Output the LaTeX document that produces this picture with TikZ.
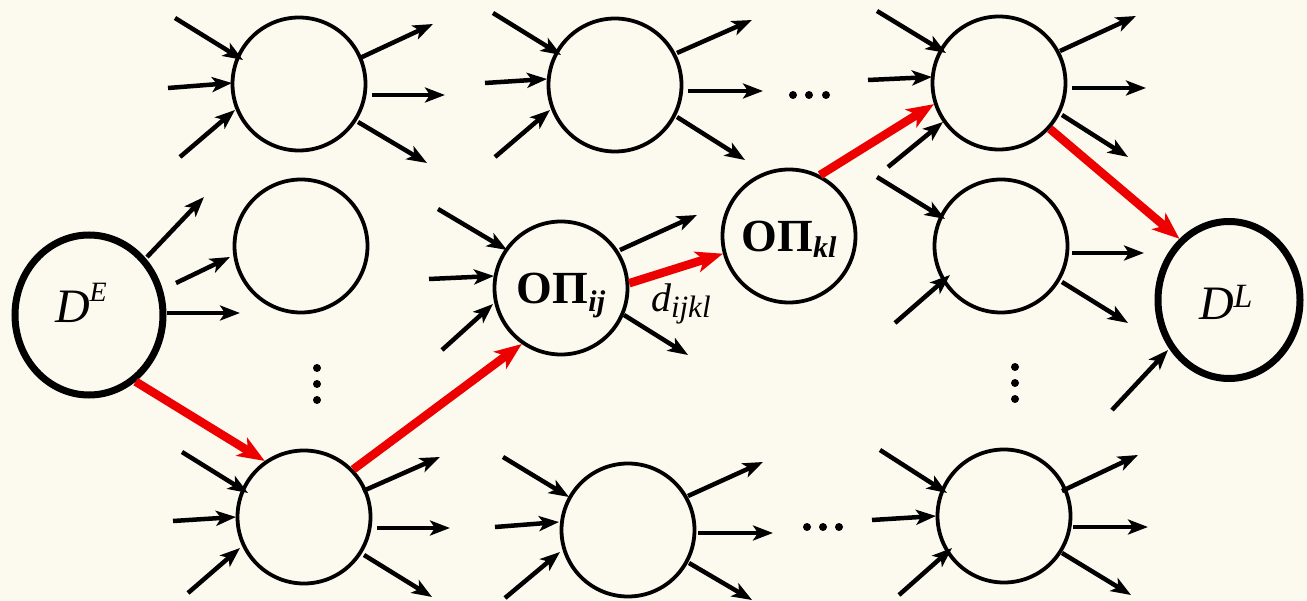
\documentclass[tikz,border=0pt]{standalone}
\usepackage{fontspec}
\setmainfont{Liberation Serif}
\usetikzlibrary{arrows.meta,calc,shapes.geometric}
\definecolor{bgc}{RGB}{252,249,238}
\definecolor{rd}{RGB}{236,0,0}
\newcommand\mystub[5]{\draw[stub] ($(#1)+(#2,#3)$) -- ($(#1)+(#4,#5)$);}
\tikzset{
  stub/.style={line width=4.5pt,-{Stealth[length=20pt,width=15pt,inset=5pt]}},
  redpath/.style={draw=rd,line width=8.5pt,-{Stealth[length=27pt,width=21pt,inset=7pt]}},
  op/.style={circle,draw,line width=3.8pt,minimum size=133pt,inner sep=0pt},
  term/.style={ellipse,draw,line width=7pt,inner sep=0pt},
  lbl/.style={inner sep=0pt,outer sep=0pt},
  dotc/.style={fill=black}
}
\begin{document}
\begin{tikzpicture}[x=1pt,y=-1pt]
\fill[bgc] (0,0) rectangle (1307,601);
\useasboundingbox (0,0) rectangle (1307,601);
% nodes
\node[term,minimum width=148pt,minimum height=160pt] (DE) at (89,315) {};
\node[term,minimum width=142pt,minimum height=157pt] (DL) at (1229,300) {};
\node[op] (A1) at (299,84) {};
\node[op] (A2) at (301,246) {};
\node[op] (A3) at (304,517) {};
\node[op] (Pij) at (561,288) {\fontsize{46pt}{46pt}\selectfont\bfseries ОП\smash{\raisebox{-8pt}{\fontsize{30pt}{30pt}\selectfont\itshape ij}}};
\node[op] (B1) at (615,85) {};
\node[op] (B3) at (628,530) {};
\node[op] (Pkl) at (789,236) {\fontsize{46pt}{46pt}\selectfont\bfseries ОП\smash{\raisebox{-6pt}{\fontsize{30pt}{30pt}\selectfont\itshape kl}}};
\node[op] (C1) at (999,83) {};
\node[op] (C2) at (1001,246) {};
\node[op] (C3) at (1004,516) {};
% labels
\node[lbl,anchor=base west] (DEt) at (55,323) {\fontsize{48pt}{48pt}\selectfont\itshape D\raisebox{21pt}{\fontsize{28pt}{28pt}\selectfont E}};
\node[lbl,anchor=base west] (DLt) at (1199,320) {\fontsize{48pt}{48pt}\selectfont\itshape D\raisebox{12pt}{\fontsize{34pt}{34pt}\selectfont L}};
\node[lbl,anchor=base west] (dl) at (651,312) {\fontsize{40pt}{40pt}\selectfont\itshape d\raisebox{-6pt}{\fontsize{31pt}{31pt}\selectfont ijkl}};
% stubs
\mystub{DE}{58}{-58}{115}{-118}
\mystub{DE}{87}{-32}{141}{-58}
\mystub{DE}{78}{-2}{151}{-2}
\mystub{A1}{-124}{-66}{-56}{-24}
\mystub{A1}{-131}{4}{-67}{-1}
\mystub{A1}{-119}{73}{-64}{26}
\mystub{A1}{61}{-26}{134}{-60}
\mystub{A1}{73}{11}{146}{11}
\mystub{A1}{59}{38}{128}{79}
\mystub{A3}{-122}{-65}{-56}{-24}
\mystub{A3}{-131}{4}{-68}{0}
\mystub{A3}{-116}{76}{-64}{31}
\mystub{A3}{59}{-26}{136}{-60}
\mystub{A3}{73}{11}{146}{11}
\mystub{A3}{60}{38}{128}{80}
\mystub{Pij}{-123}{-79}{-54}{-38}
\mystub{Pij}{-132}{-9}{-67}{-12}
\mystub{Pij}{-119}{62}{-68}{16}
\mystub{Pij}{59}{-38}{136}{-73}
\mystub{Pij}{63}{27}{127}{67}
\mystub{B1}{-122}{-72}{-54}{-30}
\mystub{B1}{-130}{-2}{-68}{-6}
\mystub{B1}{-120}{72}{-65}{25}
\mystub{B1}{62}{-32}{137}{-65}
\mystub{B1}{73}{6}{148}{6}
\mystub{B1}{62}{32}{130}{75}
\mystub{B3}{-125}{-73}{-59}{-33}
\mystub{B3}{-133}{-3}{-69}{-8}
\mystub{B3}{-123}{68}{-68}{22}
\mystub{B3}{60}{-34}{135}{-68}
\mystub{B3}{70}{3}{145}{3}
\mystub{B3}{61}{33}{124}{70}
\mystub{C1}{-122}{-72}{-53}{-30}
\mystub{C1}{-131}{-3}{-67}{-6}
\mystub{C1}{-111}{84}{-56}{39}
\mystub{C1}{61}{-32}{137}{-67}
\mystub{C1}{73}{5}{147}{5}
\mystub{C1}{63}{32}{129}{74}
\mystub{C2}{-124}{-69}{-56}{-27}
\mystub{C2}{-106}{77}{-51}{29}
\mystub{C2}{71}{7}{143}{7}
\mystub{C2}{61}{36}{127}{77}
\mystub{C3}{-124}{-66}{-57}{-23}
\mystub{C3}{-132}{4}{-68}{0}
\mystub{C3}{-105}{79}{-52}{32}
\mystub{C3}{58}{-25}{134}{-61}
\mystub{C3}{69}{11}{144}{11}
\mystub{C3}{58}{37}{127}{79}
\mystub{DL}{-117}{110}{-61}{50}
% dots
\foreach \y in {368,384,400} \fill[dotc] (317,\y) circle[radius=4pt];
\foreach \y in {367,383,399} \fill[dotc] (1015,\y) circle[radius=4pt];
\foreach \x in {793,809,826} \fill[dotc] (\x,95) circle[radius=4pt];
\foreach \x in {807,823,839} \fill[dotc] (\x,527) circle[radius=4pt];
% red path
\draw[redpath] (DE.305) -- (A3.125);
\draw[redpath] (A3.44) -- (Pij.235);
\draw[redpath] (Pij.4) -- (Pkl.195);
\draw[redpath] (Pkl.63) -- (C1.198);
\draw[redpath] (C1.318) -- (DL.129);
\end{tikzpicture}
\end{document}
